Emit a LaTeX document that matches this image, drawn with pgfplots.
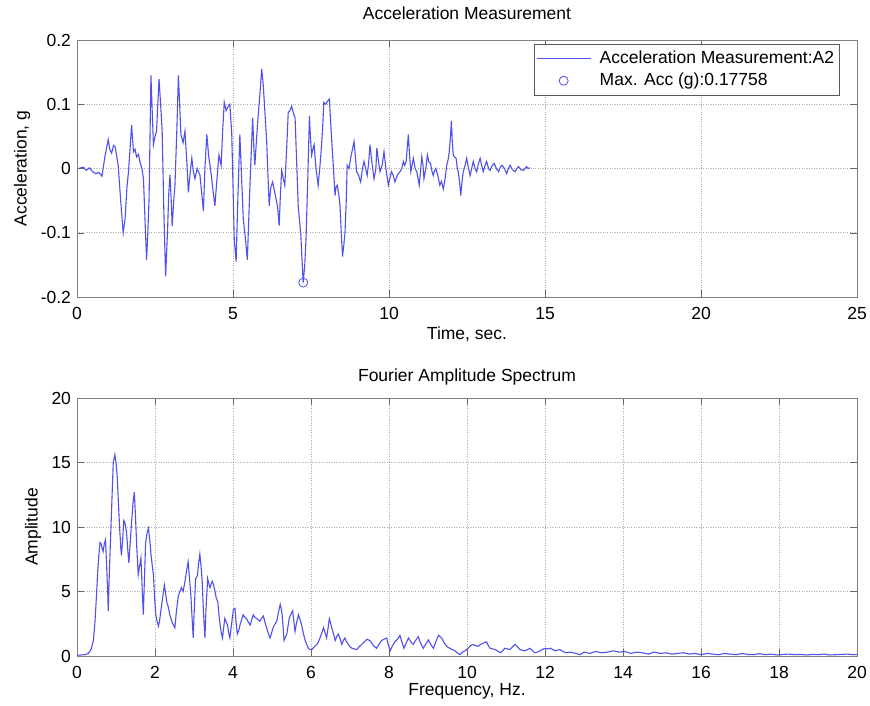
\documentclass[border=0pt]{standalone}
\usepackage{fontspec}
\setmainfont{Liberation Sans}
\usepackage{pgfplots}
\pgfplotsset{compat=1.18}
\definecolor{sig}{RGB}{80,80,236}
\pgfplotsset{
  mystyle/.style={
    scale only axis,
    width=780pt,
    xmin=0,
    /pgf/number format/assume math mode=true,
    tick align=inside,
    major tick length=7pt,
    axis line style={black!50},
    tick style={black!60},
    grid=major,
    major grid style={dotted, black!32, line width=0.6pt},
    xticklabel style={yshift=-4pt},
    scaled ticks=false,
  }
}
\begin{document}
\fontsize{17.5}{21}\selectfont
\begin{tikzpicture}
\path[use as bounding box] (0,0) rectangle (870pt,-706pt);
\begin{axis}[mystyle,
  at={(77pt,-297pt)}, anchor=south west,
  height=257pt,
  xmax=25, ymin=-0.2, ymax=0.2,
  xtick={0,5,10,15,20,25},
  ytick={-0.2,-0.1,0,0.1,0.2},
  yticklabels={-0.2,-0.1,0,0.1,0.2},
  title={Acceleration Measurement},
  title style={at={(axis description cs:0.5,1)}, anchor=center, yshift=21pt},
  xlabel={Time, sec.},
  xlabel style={at={(axis description cs:0.5,0)}, anchor=center, yshift=-37pt},
  ylabel={Acceleration, g},
  ylabel style={at={(axis description cs:-0.0705,0.5)}, anchor=center},
  legend image code/.code={\draw[mark repeat=2,mark phase=2,#1] plot coordinates {(0pt,0pt) (27pt,0pt) (54pt,0pt)};},
  legend style={at={(axis description cs:0.978,0.984)}, anchor=north east,
    draw=black!65, fill=white, inner xsep=2pt, inner ysep=3pt,
    /tikz/column sep=5pt,
    nodes={inner sep=3.5pt}, cells={anchor=west}},
]
\addplot[sig, line width=1.1pt] coordinates {
(0.05,0) (0.2,0.002) (0.3,-0.003) (0.4,0.001) (0.5,-0.005) (0.6,-0.008) (0.7,-0.006) (0.8,-0.012) (0.9,0.02) (1.0,0.045) (1.05,0.03) (1.11,0.024) (1.17,0.036) (1.22,0.034) (1.32,0.005) (1.4,-0.05) (1.48,-0.10) (1.54,-0.079) (1.6,-0.03) (1.65,-0.005) (1.7,0.03) (1.75,0.068) (1.81,0.026) (1.86,0.03) (1.91,0.018) (1.97,0.022) (2.02,0.01) (2.08,0.0) (2.13,-0.016) (2.18,-0.08) (2.23,-0.142) (2.27,-0.1) (2.31,-0.047) (2.34,0.05) (2.37,0.145) (2.41,0.09) (2.45,0.037) (2.50,0.05) (2.55,0.058) (2.59,0.10) (2.63,0.139) (2.68,0.1) (2.73,0.058) (2.78,-0.06) (2.84,-0.168) (2.9,-0.1) (2.94,-0.04) (2.98,-0.01) (3.02,-0.05) (3.05,-0.09) (3.1,-0.05) (3.14,-0.026) (3.2,0.06) (3.25,0.145) (3.29,0.1) (3.33,0.053) (3.4,0.04) (3.46,0.058) (3.52,0.01) (3.57,-0.037) (3.62,-0.01) (3.68,0.016) (3.73,-0.005) (3.78,-0.016) (3.85,0.0) (3.94,-0.01) (4.0,-0.04) (4.05,-0.066) (4.1,0.0) (4.16,0.053) (4.22,0.02) (4.29,-0.005) (4.35,-0.03) (4.42,-0.058) (4.48,-0.02) (4.55,0.021) (4.62,0.005) (4.67,0.06) (4.72,0.103) (4.78,0.09) (4.85,0.097) (4.9,0.10) (4.96,0.053) (5.01,-0.047) (5.04,-0.11) (5.10,-0.145) (5.16,-0.04) (5.22,0.053) (5.28,-0.02) (5.33,-0.079) (5.40,-0.11) (5.46,-0.142) (5.54,-0.03) (5.63,0.079) (5.67,0.03) (5.70,0.005) (5.76,0.05) (5.81,0.084) (5.87,0.12) (5.92,0.155) (5.97,0.13) (6.02,0.09) (6.08,0.042) (6.12,-0.01) (6.16,-0.058) (6.21,-0.03) (6.27,-0.021) (6.33,-0.035) (6.38,-0.047) (6.43,-0.06) (6.48,-0.089) (6.52,-0.04) (6.56,-0.003) (6.61,-0.015) (6.66,-0.026) (6.72,0.03) (6.77,0.087) (6.82,0.09) (6.88,0.097) (6.94,0.085) (6.99,0.079) (7.04,0.01) (7.09,-0.058) (7.13,-0.08) (7.17,-0.10) (7.21,-0.14) (7.25,-0.17758) (7.3,-0.15) (7.34,-0.11) (7.4,-0.01) (7.45,0.082) (7.48,0.05) (7.52,0.021) (7.56,0.03) (7.60,0.037) (7.66,0.0) (7.73,-0.026) (7.78,0.0) (7.84,0.037) (7.88,0.07) (7.91,0.103) (7.97,0.1) (8.03,0.105) (8.09,0.108) (8.12,0.08) (8.16,0.047) (8.22,0.0) (8.27,-0.042) (8.3,-0.03) (8.34,-0.026) (8.39,-0.04) (8.43,-0.058) (8.47,-0.1) (8.51,-0.137) (8.55,-0.12) (8.59,-0.10) (8.63,-0.05) (8.66,0.005) (8.72,0.0) (8.77,0.016) (8.83,0.03) (8.88,0.042) (8.92,0.02) (8.96,-0.005) (9.02,-0.01) (9.09,-0.021) (9.15,0.0) (9.20,0.011) (9.25,0.0) (9.30,-0.011) (9.35,0.01) (9.39,0.037) (9.45,0.01) (9.52,-0.016) (9.58,0.0) (9.61,0.032) (9.65,0.016) (9.71,-0.005) (9.78,0.005) (9.84,0.026) (9.9,0.0) (9.98,-0.026) (10.03,-0.015) (10.08,-0.005) (10.13,-0.01) (10.19,-0.021) (10.27,-0.01) (10.35,-0.005) (10.41,0.0) (10.46,0.011) (10.50,0.005) (10.55,0.011) (10.62,0.053) (10.66,0.02) (10.70,-0.005) (10.74,0.005) (10.78,0.016) (10.84,0.0) (10.89,-0.005) (10.93,-0.015) (10.97,-0.026) (11.01,-0.005) (11.05,0.018) (11.09,0.005) (11.12,-0.016) (11.18,0.0) (11.23,0.021) (11.28,0.01) (11.33,0.008) (11.38,-0.005) (11.42,-0.011) (11.46,-0.003) (11.50,0.0) (11.56,-0.01) (11.63,-0.026) (11.68,-0.02) (11.74,-0.032) (11.8,-0.015) (11.85,0.005) (11.9,0.015) (11.93,0.026) (11.97,0.05) (12.00,0.074) (12.03,0.04) (12.06,0.021) (12.1,0.018) (12.15,0.016) (12.19,0.0) (12.22,-0.005) (12.26,-0.02) (12.30,-0.042) (12.34,-0.02) (12.38,-0.005) (12.44,0.005) (12.49,0.016) (12.55,0.0) (12.60,-0.011) (12.65,0.0) (12.70,0.011) (12.76,0.0) (12.81,-0.005) (12.87,0.008) (12.92,0.016) (12.97,0.005) (13.02,-0.005) (13.08,0.005) (13.13,0.011) (13.19,0.0) (13.24,-0.003) (13.3,0.004) (13.37,0.008) (13.44,0.0) (13.51,-0.005) (13.57,0.002) (13.62,0.005) (13.7,0.0) (13.77,-0.008) (13.83,0.0) (13.88,0.005) (13.96,-0.002) (14.04,-0.005) (14.1,0.0) (14.15,0.003) (14.23,-0.002) (14.31,-0.003) (14.36,0.0) (14.41,0.003) (14.46,0.0) (14.52,0.001)
};
\addlegendentry{Acceleration Measurement:A2}
\addplot[sig, only marks, mark=o, mark size=4.5pt, line width=0.8pt] coordinates {(7.25,-0.17758)};
\addlegendentry{Max. Acc (g):0.17758}
\end{axis}

\begin{axis}[mystyle,
  at={(77pt,-656pt)}, anchor=south west,
  height=258pt,
  xmax=20, ymin=0, ymax=20,
  xtick={0,2,4,6,8,10,12,14,16,18,20},
  ytick={0,5,10,15,20},
  title={Fourier Amplitude Spectrum},
  title style={at={(axis description cs:0.5,1)}, anchor=center, yshift=15pt},
  xlabel={Frequency, Hz.},
  xlabel style={at={(axis description cs:0.5,0)}, anchor=center, yshift=-35pt},
  ylabel={Amplitude},
  ylabel style={at={(axis description cs:-0.0564,0.5)}, anchor=center},
]
\addplot[sig, line width=1.1pt] coordinates {
(0,0.05) (0.1,0.08) (0.2,0.1) (0.29,0.2) (0.36,0.5) (0.42,1.2) (0.46,2.6) (0.50,4.7) (0.53,6.5) (0.56,7.8) (0.59,8.8) (0.62,8.7) (0.65,8.3) (0.67,8.1) (0.70,8.7) (0.73,9.0) (0.76,7.0) (0.79,4.7) (0.80,3.5) (0.83,6.5) (0.87,9.9) (0.90,12.5) (0.93,15.0) (0.97,15.6) (1.00,15.0) (1.03,14.0) (1.06,12.0) (1.09,10.1) (1.12,8.5) (1.14,7.8) (1.17,9.0) (1.20,10.5) (1.23,10.3) (1.27,9.6) (1.30,8.3) (1.33,7.2) (1.36,8.6) (1.40,10.4) (1.44,12.0) (1.47,12.7) (1.50,10.8) (1.53,8.6) (1.57,6.3) (1.60,6.9) (1.64,7.6) (1.67,5.3) (1.70,3.2) (1.73,6.0) (1.76,8.8) (1.80,9.6) (1.83,9.9) (1.87,8.9) (1.90,7.8) (1.93,7.0) (1.96,6.3) (1.99,4.5) (2.02,3.2) (2.06,2.6) (2.09,2.3) (2.12,2.8) (2.15,3.5) (2.20,4.6) (2.24,5.5) (2.27,4.9) (2.30,4.2) (2.34,3.8) (2.38,3.2) (2.44,2.6) (2.51,2.2) (2.55,3.5) (2.60,4.7) (2.64,5.0) (2.68,5.3) (2.72,5.0) (2.77,5.8) (2.81,6.6) (2.85,7.3) (2.88,6.2) (2.92,4.7) (2.95,3.0) (2.98,1.4) (3.01,3.8) (3.04,6.0) (3.07,6.1) (3.09,6.3) (3.12,7.2) (3.15,7.9) (3.18,7.0) (3.21,5.8) (3.24,3.6) (3.28,1.4) (3.31,3.8) (3.35,6.0) (3.38,5.6) (3.41,5.3) (3.44,5.6) (3.47,5.8) (3.51,5.4) (3.54,5.0) (3.57,4.5) (3.61,4.2) (3.64,3.2) (3.67,2.4) (3.70,1.8) (3.73,1.4) (3.76,2.2) (3.79,2.9) (3.83,2.6) (3.86,2.4) (3.89,1.8) (3.92,1.4) (3.96,2.4) (4.01,3.6) (4.05,3.7) (4.08,2.6) (4.11,1.7) (4.15,2.0) (4.18,2.4) (4.22,2.8) (4.26,3.2) (4.30,3.0) (4.35,2.9) (4.40,2.6) (4.44,2.4) (4.48,2.8) (4.52,3.2) (4.56,3.0) (4.61,2.9) (4.65,2.8) (4.69,2.7) (4.73,2.9) (4.78,3.1) (4.82,2.6) (4.86,2.2) (4.90,1.8) (4.95,1.4) (4.99,1.8) (5.03,2.2) (5.08,2.5) (5.12,2.7) (5.16,3.3) (5.21,4.0) (5.24,3.6) (5.26,3.2) (5.29,2.0) (5.31,1.2) (5.35,1.5) (5.38,1.7) (5.41,2.3) (5.44,2.9) (5.48,3.2) (5.53,3.5) (5.56,2.7) (5.59,1.9) (5.63,2.6) (5.68,3.2) (5.72,2.8) (5.76,2.4) (5.80,1.8) (5.85,1.2) (5.89,0.9) (5.93,0.6) (5.98,0.5) (6.02,0.5) (6.08,0.7) (6.15,0.9) (6.19,1.1) (6.23,1.4) (6.28,1.8) (6.32,2.2) (6.36,1.8) (6.40,1.4) (6.44,2.2) (6.47,2.9) (6.50,2.6) (6.53,2.2) (6.58,1.7) (6.62,1.2) (6.66,1.5) (6.70,1.7) (6.75,1.3) (6.79,0.9) (6.83,1.2) (6.87,1.4) (6.91,1.1) (6.96,0.9) (7.0,0.7) (7.05,0.6) (7.11,0.55) (7.17,0.5) (7.23,0.7) (7.30,0.9) (7.37,1.1) (7.43,1.3) (7.47,1.25) (7.51,1.2) (7.56,1.0) (7.60,0.8) (7.64,0.7) (7.68,0.6) (7.74,0.9) (7.81,1.2) (7.87,1.3) (7.94,1.4) (7.98,0.9) (8.03,0.4) (8.09,0.8) (8.15,1.1) (8.22,1.3) (8.28,1.6) (8.33,1.1) (8.38,0.6) (8.44,1.0) (8.50,1.4) (8.56,1.1) (8.62,0.9) (8.68,1.2) (8.75,1.5) (8.81,1.0) (8.88,0.6) (8.94,0.9) (9.01,1.25) (9.07,0.9) (9.14,0.6) (9.20,1.1) (9.27,1.6) (9.31,1.5) (9.35,1.4) (9.40,1.1) (9.44,0.9) (9.50,0.7) (9.56,0.6) (9.62,0.5) (9.69,0.4) (9.75,0.25) (9.82,0.1) (9.88,0.3) (9.95,0.4) (10.03,0.6) (10.09,0.8) (10.16,0.9) (10.22,0.8) (10.29,0.75) (10.35,0.9) (10.42,1.0) (10.50,1.1) (10.55,0.8) (10.59,0.6) (10.65,0.55) (10.72,0.5) (10.78,0.4) (10.85,0.25) (10.91,0.4) (10.97,0.6) (11.03,0.55) (11.10,0.5) (11.16,0.7) (11.23,0.9) (11.3,0.7) (11.36,0.5) (11.42,0.45) (11.49,0.4) (11.55,0.5) (11.62,0.6) (11.68,0.4) (11.74,0.25) (11.8,0.3) (11.87,0.4) (11.93,0.5) (12.00,0.6) (12.06,0.55) (12.13,0.6) (12.2,0.5) (12.26,0.4) (12.32,0.45) (12.38,0.5) (12.46,0.35) (12.55,0.25) (12.63,0.3) (12.72,0.25) (12.8,0.2) (12.9,0.1) (13.0,0.3) (13.15,0.2) (13.3,0.35) (13.45,0.25) (13.6,0.3) (13.75,0.4) (13.9,0.3) (14.05,0.35) (14.2,0.2) (14.35,0.3) (14.5,0.25) (14.65,0.15) (14.8,0.3) (14.95,0.2) (15.1,0.25) (15.25,0.15) (15.4,0.2) (15.55,0.25) (15.7,0.15) (15.85,0.2) (16.0,0.1) (16.15,0.2) (16.3,0.15) (16.45,0.1) (16.6,0.2) (16.75,0.15) (16.9,0.1) (17.05,0.2) (17.2,0.12) (17.35,0.1) (17.5,0.18) (17.65,0.1) (17.8,0.15) (17.95,0.08) (18.1,0.12) (18.25,0.15) (18.4,0.1) (18.55,0.12) (18.7,0.08) (18.85,0.12) (19.0,0.1) (19.15,0.15) (19.3,0.08) (19.45,0.1) (19.6,0.12) (19.75,0.15) (19.9,0.1) (20,0.12)
};
\end{axis}
\end{tikzpicture}
\end{document}
